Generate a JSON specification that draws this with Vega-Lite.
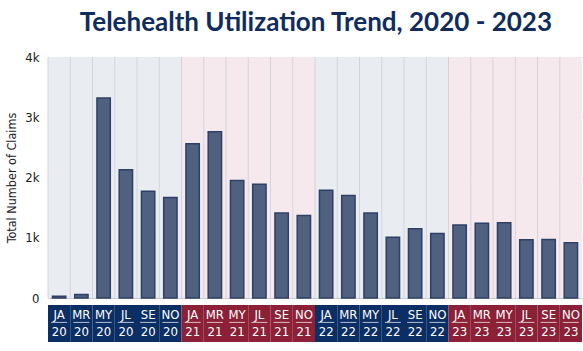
{
  "$schema": "https://vega.github.io/schema/vega-lite/v6.json",
  "padding": {"left": 5, "top": 10, "right": 2, "bottom": 5},
  "background": "white",
  "title": {"text": "Telehealth Utilization Trend, 2020 - 2023", "font": "Lato", "fontSize": 26, "fontWeight": "bold", "color": "#0f2c5c", "anchor": "middle", "offset": 15, "dx": 22},
  "config": {"view": {"stroke": null}, "concat": {"spacing": 0}},
  "data": {"values": [
    {"key": "JA20", "m": "JA", "yr": "20", "v": 30, "grp": "a"},
    {"key": "MR20", "m": "MR", "yr": "20", "v": 58, "grp": "a"},
    {"key": "MY20", "m": "MY", "yr": "20", "v": 3320, "grp": "a"},
    {"key": "JL20", "m": "JL", "yr": "20", "v": 2130, "grp": "a"},
    {"key": "SE20", "m": "SE", "yr": "20", "v": 1770, "grp": "a"},
    {"key": "NO20", "m": "NO", "yr": "20", "v": 1670, "grp": "a"},
    {"key": "JA21", "m": "JA", "yr": "21", "v": 2560, "grp": "b"},
    {"key": "MR21", "m": "MR", "yr": "21", "v": 2760, "grp": "b"},
    {"key": "MY21", "m": "MY", "yr": "21", "v": 1950, "grp": "b"},
    {"key": "JL21", "m": "JL", "yr": "21", "v": 1890, "grp": "b"},
    {"key": "SE21", "m": "SE", "yr": "21", "v": 1410, "grp": "b"},
    {"key": "NO21", "m": "NO", "yr": "21", "v": 1370, "grp": "b"},
    {"key": "JA22", "m": "JA", "yr": "22", "v": 1790, "grp": "a"},
    {"key": "MR22", "m": "MR", "yr": "22", "v": 1700, "grp": "a"},
    {"key": "MY22", "m": "MY", "yr": "22", "v": 1410, "grp": "a"},
    {"key": "JL22", "m": "JL", "yr": "22", "v": 1010, "grp": "a"},
    {"key": "SE22", "m": "SE", "yr": "22", "v": 1150, "grp": "a"},
    {"key": "NO22", "m": "NO", "yr": "22", "v": 1070, "grp": "a"},
    {"key": "JA23", "m": "JA", "yr": "23", "v": 1210, "grp": "b"},
    {"key": "MR23", "m": "MR", "yr": "23", "v": 1240, "grp": "b"},
    {"key": "MY23", "m": "MY", "yr": "23", "v": 1250, "grp": "b"},
    {"key": "JL23", "m": "JL", "yr": "23", "v": 965, "grp": "b"},
    {"key": "SE23", "m": "SE", "yr": "23", "v": 970, "grp": "b"},
    {"key": "NO23", "m": "NO", "yr": "23", "v": 915, "grp": "b"}
  ]},
  "vconcat": [
    {
      "width": 534,
      "height": 241,
      "encoding": {
        "x": {"field": "key", "type": "nominal", "sort": null, "scale": {"paddingInner": 0, "paddingOuter": 0},
              "axis": {"labels": false, "ticks": false, "domain": false, "title": null, "grid": false, "labelPadding": 0}}
      },
      "layer": [
        {
          "mark": {"type": "rect"},
          "encoding": {
            "fill": {"condition": {"test": "datum.grp === 'a'", "value": "#e9edf1"}, "value": "#f5e9ed"}
          }
        },
        {
          "mark": {"type": "rule", "color": "#d4d4d8", "strokeWidth": 1},
          "encoding": {"x": {"field": "key", "type": "nominal", "sort": null, "bandPosition": 0}}
        },
        {
          "mark": {"type": "bar", "width": {"band": 0.6}, "fill": "#50607f", "stroke": "#2f4066", "strokeWidth": 1.5},
          "encoding": {
            "y": {"field": "v", "type": "quantitative", "scale": {"domain": [0, 4000], "nice": false},
                  "axis": {"values": [0, 1000, 2000, 3000, 4000], "labelExpr": "datum.value === 0 ? '0' : (datum.value / 1000) + 'k'", "title": "Total Number of Claims",
                           "ticks": false, "domain": false, "labelPadding": 9, "titlePadding": 6,
                           "labelFont": "DejaVu Sans Condensed, Open Sans", "labelFontSize": 13, "labelColor": "#222",
                           "titleFont": "DejaVu Sans Condensed, Open Sans", "titleFontSize": 12.5, "titleFontWeight": "normal", "titleColor": "#222",
                           "gridColor": "#cbcbd0", "gridWidth": 1.2}}
          }
        }
      ]
    },
    {
      "width": 534,
      "height": 37,
      "encoding": {
        "x": {"field": "key", "type": "nominal", "sort": null, "scale": {"paddingInner": 0, "paddingOuter": 0}, "axis": null}
      },
      "layer": [
        {
          "mark": {"type": "rect"},
          "encoding": {
            "fill": {"condition": {"test": "datum.grp === 'a'", "value": "#0b2e65"}, "value": "#8b2036"}
          }
        },
        {
          "mark": {"type": "text", "color": "white", "font": "DejaVu Sans Condensed, Open Sans", "fontSize": 13, "baseline": "middle"},
          "encoding": {
            "y": {"datum": 0.74, "type": "quantitative", "scale": {"domain": [0, 1]}, "axis": null},
            "text": {"field": "m"}
          }
        },
        {
          "mark": {"type": "tick", "color": "white", "thickness": 1, "size": 16, "orient": "horizontal"},
          "encoding": {
            "y": {"datum": 0.53, "type": "quantitative"}
          }
        },
        {
          "mark": {"type": "text", "color": "white", "font": "DejaVu Sans Condensed, Open Sans", "fontSize": 13, "baseline": "middle"},
          "encoding": {
            "y": {"datum": 0.27, "type": "quantitative"},
            "text": {"field": "yr"}
          }
        }
      ]
    }
  ]
}
